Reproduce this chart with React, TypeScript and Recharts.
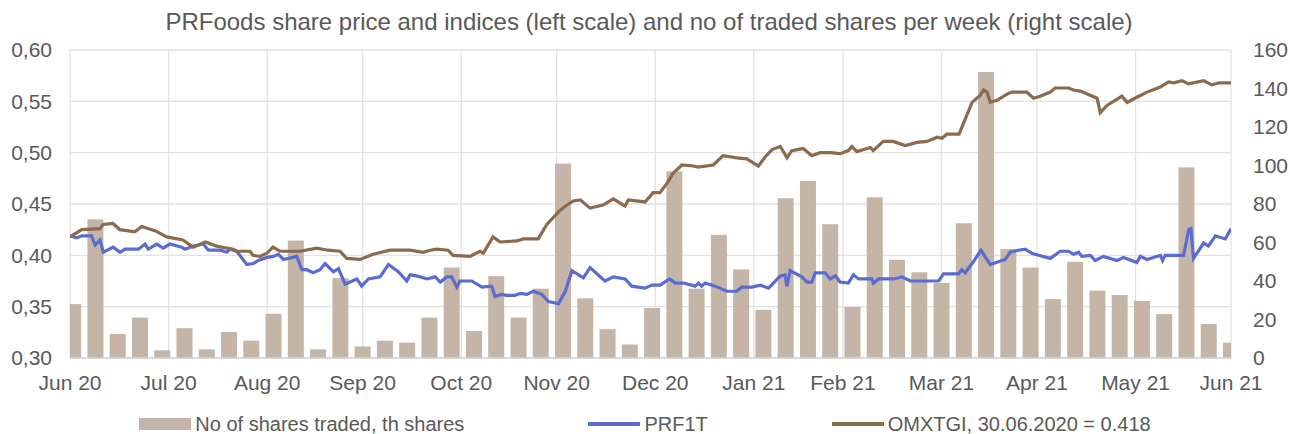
import React from 'react';
import { ComposedChart, Bar, Line, XAxis, YAxis, CartesianGrid } from 'recharts';

// x values are days after 30.06.2020
const monthTicks = [0, 31, 62, 92, 123, 153, 184, 215, 243, 274, 304, 335, 365];
const monthLabels = ['Jun 20', 'Jul 20', 'Aug 20', 'Sep 20', 'Oct 20', 'Nov 20', 'Dec 20', 'Jan 21', 'Feb 21', 'Mar 21', 'Apr 21', 'May 21', 'Jun 21'];
const priceTicks = [0.3, 0.35, 0.4, 0.45, 0.5, 0.55, 0.6];
const volumeTicks = [0, 20, 40, 60, 80, 100, 120, 140, 160];

// weekly traded shares, thousands
const weeklyShares = [
  28, 72, 12.5, 21, 4, 15.5, 4.5, 13.5, 9, 23, 61, 4.5, 41.5, 6, 9, 8, 21, 47, 14, 42.5,
  21, 36, 101, 31, 15, 7, 26, 97, 36, 64, 46, 25, 83, 92, 69.5, 26.5, 83.5, 51, 44.5, 39,
  70, 148.6, 56.6, 47, 30.6, 50, 35, 32.7, 29.6, 22.8, 99, 17.7, 8,
];

// [day, price]
const prf1t: [number, number][] = [
  [0, 0.419], [2.1, 0.417], [3.7, 0.419], [6.8, 0.419], [7.9, 0.41], [9.4, 0.415], [10.5, 0.403],
  [13.6, 0.408], [15.7, 0.403], [17.3, 0.406], [21.5, 0.406], [23.6, 0.411], [24.6, 0.406],
  [27.3, 0.411], [29.3, 0.407], [31.4, 0.411], [35.1, 0.408], [36.2, 0.406], [38.8, 0.409],
  [41.9, 0.411], [43.5, 0.405], [47.2, 0.405], [49.3, 0.403], [50.3, 0.406], [52.4, 0.404],
  [55.6, 0.391], [57.6, 0.392], [59.2, 0.395], [61.9, 0.398], [63.9, 0.399], [65.5, 0.401],
  [67.1, 0.396], [71.3, 0.399], [72.9, 0.386], [74.4, 0.386], [76.5, 0.383], [78.6, 0.386],
  [80.2, 0.392], [82.8, 0.384], [84.4, 0.387], [86.5, 0.372], [90.2, 0.377], [91.7, 0.37],
  [93.8, 0.377], [97.5, 0.379], [100.1, 0.391], [103.2, 0.384], [105.9, 0.375], [106.9, 0.381],
  [109, 0.38], [112.2, 0.377], [114.8, 0.379], [116.4, 0.374], [118.5, 0.379], [120, 0.379],
  [121.6, 0.369], [122.6, 0.375], [126.3, 0.375], [129.5, 0.369], [132.6, 0.37], [133.6, 0.36],
  [135.8, 0.362], [137.3, 0.361], [139.9, 0.361], [141.5, 0.363], [143.6, 0.362], [145.7, 0.365],
  [148.3, 0.362], [150.4, 0.355], [153.6, 0.353], [155.7, 0.365], [157.8, 0.385], [161.4, 0.378],
  [163.5, 0.388], [168.2, 0.375], [170.8, 0.379], [174.5, 0.377], [176.6, 0.37], [180.8, 0.368],
  [182.9, 0.371], [185.5, 0.371], [188.5, 0.377], [190.3, 0.373], [192.9, 0.373], [196.5, 0.37],
  [197.6, 0.373], [198.6, 0.37], [199.7, 0.373], [202.8, 0.37], [206.5, 0.365], [209.6, 0.365],
  [211.2, 0.369], [214.4, 0.369], [217, 0.371], [219.6, 0.368], [223.3, 0.38], [224.8, 0.381],
  [225.4, 0.37], [226.4, 0.385], [230.1, 0.379], [231.7, 0.374], [233.2, 0.374], [234.3, 0.383],
  [237.4, 0.383], [239, 0.377], [240.6, 0.38], [242.1, 0.374], [244.7, 0.373], [246.3, 0.381],
  [247.9, 0.377], [252.1, 0.377], [252.6, 0.373], [254.2, 0.377], [258.9, 0.377], [261.5, 0.379],
  [264.2, 0.375], [269.4, 0.375], [273.1, 0.375], [274.6, 0.382], [279.3, 0.382], [280.4, 0.386],
  [281.4, 0.383], [283.6, 0.392], [286.4, 0.405], [289.3, 0.391], [294, 0.396], [295.6, 0.403],
  [298.2, 0.405], [300.3, 0.406], [302.4, 0.402], [304.5, 0.4], [308.2, 0.397], [311.3, 0.404],
  [313.9, 0.404], [315.5, 0.401], [317.1, 0.403], [318.1, 0.399], [320.8, 0.4], [322.3, 0.395],
  [324.9, 0.399], [329.2, 0.395], [331.2, 0.398], [335.4, 0.393], [336.5, 0.399], [338.6, 0.396],
  [342.8, 0.4], [343.5, 0.395], [344.3, 0.4], [350.1, 0.4], [351.7, 0.425], [352.4, 0.426],
  [353.2, 0.397], [356.4, 0.412], [357.9, 0.409], [360.1, 0.419], [363.2, 0.416], [365, 0.426],
];

// [day, OMXTGI rebased to 0.418]
const omxtgi: [number, number][] = [
  [0, 0.418], [3.7, 0.425], [9.4, 0.426], [10.4, 0.43], [13.5, 0.431], [15.7, 0.425], [20.4, 0.423],
  [22.5, 0.428], [26.7, 0.424], [30.4, 0.418], [35.5, 0.415], [38.7, 0.408], [42.5, 0.413],
  [46.1, 0.409], [51.3, 0.406], [52.4, 0.404], [56.6, 0.404], [57.5, 0.4], [59.7, 0.399],
  [61.9, 0.402], [63.8, 0.408], [66, 0.404], [69.2, 0.404], [72.3, 0.404], [77.6, 0.407],
  [81.1, 0.405], [84.9, 0.404], [87, 0.397], [91.2, 0.396], [95.3, 0.401], [100.6, 0.405],
  [106.9, 0.405], [111, 0.403], [113.2, 0.405], [115.3, 0.406], [118.9, 0.405], [120.4, 0.4],
  [125.8, 0.399], [128.9, 0.404], [129.9, 0.402], [133, 0.418], [135.2, 0.413], [140.5, 0.414],
  [142.5, 0.416], [147.2, 0.416], [149.9, 0.43], [154.1, 0.444], [156.2, 0.449], [158.2, 0.453],
  [160.4, 0.454], [163.5, 0.446], [167.6, 0.449], [170.8, 0.455], [174.5, 0.448], [175.5, 0.454],
  [180.8, 0.452], [183.3, 0.461], [185.5, 0.461], [188.1, 0.472], [189.6, 0.48], [192.4, 0.488],
  [195.9, 0.487], [197.5, 0.486], [202.2, 0.488], [205.3, 0.497], [209.7, 0.495], [212.8, 0.494],
  [216.4, 0.487], [218.6, 0.496], [220.7, 0.503], [223.3, 0.506], [225.4, 0.495], [226.9, 0.502],
  [230.5, 0.504], [233.2, 0.497], [235.8, 0.5], [239, 0.5], [242.1, 0.499], [244.7, 0.502],
  [245.8, 0.506], [247.4, 0.501], [251.6, 0.505], [252.5, 0.502], [255.7, 0.511], [258.8, 0.511],
  [262.6, 0.507], [266.3, 0.51], [269.4, 0.511], [272.6, 0.515], [274.1, 0.514], [275.7, 0.518],
  [279.5, 0.518], [283.6, 0.549], [286.2, 0.556], [287.2, 0.561], [288.3, 0.559], [289.3, 0.549],
  [291.4, 0.551], [294.6, 0.557], [296.1, 0.559], [300.8, 0.559], [302.9, 0.553], [305, 0.555],
  [308.2, 0.559], [309.7, 0.563], [313.9, 0.563], [315.5, 0.561], [317.6, 0.56], [322.9, 0.553],
  [323.9, 0.539], [326, 0.546], [330.7, 0.555], [332.3, 0.549], [335.4, 0.554], [338.6, 0.559],
  [342.8, 0.564], [345.4, 0.569], [347, 0.568], [349.6, 0.57], [351.7, 0.567], [356.4, 0.57],
  [359, 0.566], [361.1, 0.568], [365, 0.568],
];

const barData = weeklyShares.map((v, i) => ({ day: 1 + 7 * i, shares: v }));
const prfData = prf1t.map(([day, v]) => ({ day, price: v }));
const omxData = omxtgi.map(([day, v]) => ({ day, index: v }));

const FONT = '"Liberation Sans", Arial, sans-serif';
const TEXT = '#595959';
const BAR = '#c4b5a6';
const BLUE = '#5a6cd2';
const BROWN = '#8b6a4e';
const BAR_W = 16;
const PLOT_LEFT = 70;
const PLOT_RIGHT = 1231;

// weekly bar, centred on its date and cut at the plot edges
const WeekBar = (props: any) => {
  const { x, width, y, height } = props;
  if (height == null || !(height > 0)) return null;
  const cx = x + width / 2;
  const left = Math.max(cx - BAR_W / 2, PLOT_LEFT);
  const right = Math.min(cx + BAR_W / 2, PLOT_RIGHT + 2);
  if (right <= left) return null;
  return <rect x={left} y={y} width={right - left} height={height} fill={BAR} />;
};

const Legend = () => (
  <div
    style={{
      position: 'absolute', left: 0, top: 413, width: 1290, display: 'flex', justifyContent: 'center',
      gap: 124, fontFamily: FONT, fontSize: 20, color: TEXT, lineHeight: '22px',
    }}
  >
    <div style={{ display: 'flex', alignItems: 'center' }}>
      <span style={{ width: 52, height: 12, background: BAR, marginRight: 4 }} />
      No of shares traded, th shares
    </div>
    <div style={{ display: 'flex', alignItems: 'center' }}>
      <span style={{ width: 52, height: 4, background: BLUE, marginRight: 4 }} />
      PRF1T
    </div>
    <div style={{ display: 'flex', alignItems: 'center' }}>
      <span style={{ width: 52, height: 4, background: BROWN, marginRight: 4 }} />
      OMXTGI, 30.06.2020 = 0.418
    </div>
  </div>
);

export default function App() {
  const tickStyle = { fill: TEXT, fontSize: 21, fontFamily: FONT };
  return (
    <div style={{ position: 'absolute', left: 0, top: 0, width: 1290, height: 434, background: '#fff' }}>
      <div
        style={{
          position: 'absolute', left: 0, top: 8, width: 1298, textAlign: 'center',
          fontFamily: FONT, fontSize: 24, color: TEXT, lineHeight: '28px',
        }}
      >
        PRFoods share price and indices (left scale) and no of traded shares per week (right scale)
      </div>
      <ComposedChart
        width={1290}
        height={434}
        data={barData}
        margin={{ top: 50, right: 0, bottom: 46, left: 0 }}
      >
        <CartesianGrid yAxisId="left" stroke="#e3e3e3" strokeWidth={1.3} />
        <XAxis
          dataKey="day"
          type="number"
          domain={[0, 365]}
          ticks={monthTicks}
          allowDataOverflow
          interval={0}
          tickFormatter={(d: number) => monthLabels[monthTicks.indexOf(d)]}
          tick={tickStyle}
          tickLine={false}
          tickMargin={11}
          axisLine={{ stroke: '#d4d4d4', strokeWidth: 1.3 }}
          height={30}
        />
        <YAxis
          yAxisId="left"
          domain={[0.3, 0.6]}
          ticks={priceTicks}
          allowDataOverflow
          tickFormatter={(v: number) => v.toFixed(2).replace('.', ',')}
          tick={tickStyle}
          tickLine={false}
          axisLine={false}
          tickMargin={12}
          width={70}
        />
        <YAxis
          yAxisId="right"
          orientation="right"
          domain={[0, 160]}
          ticks={volumeTicks}
          tick={{ ...tickStyle, textAnchor: 'start' }}
          tickLine={false}
          axisLine={false}
          tickMargin={16}
          width={59}
        />
        <Bar yAxisId="right" dataKey="shares" fill={BAR} shape={WeekBar} isAnimationActive={false} />
        <Line
          yAxisId="left"
          data={prfData}
          dataKey="price"
          type="linear"
          stroke={BLUE}
          strokeWidth={3.2}
          dot={false}
          isAnimationActive={false}
        />
        <Line
          yAxisId="left"
          data={omxData}
          dataKey="index"
          type="linear"
          stroke={BROWN}
          strokeWidth={3.2}
          dot={false}
          isAnimationActive={false}
        />
      </ComposedChart>
      <Legend />
    </div>
  );
}
